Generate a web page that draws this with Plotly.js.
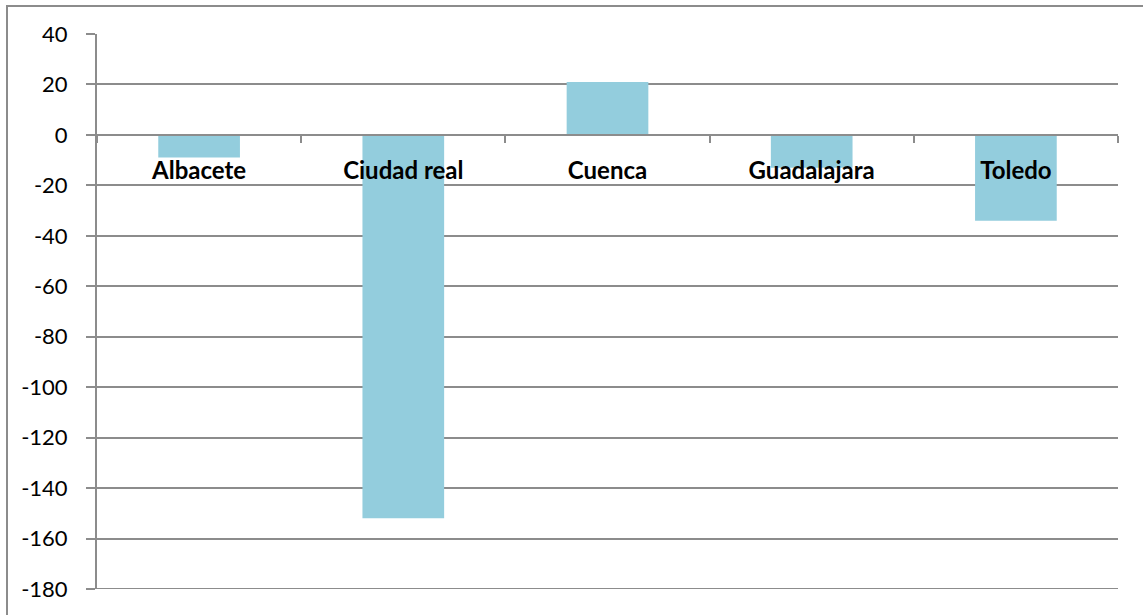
<!DOCTYPE html>
<html>
<head>
<meta charset="utf-8">
<script src="https://cdn.plot.ly/plotly-3.0.1.min.js"></script>
<style>
  html, body { margin: 0; padding: 0; background: #fff; }
  #wrap { position: relative; width: 1143px; height: 615px; overflow: hidden; }
  #chart { position: absolute; left: 0; top: 0; width: 1143px; height: 615px; }
  #frame { position: absolute; left: 6px; top: 5px; width: 1160px; height: 640px;
           border: 2px solid #8c8c8c; box-sizing: border-box; pointer-events: none; }
</style>
</head>
<body>
<div id="wrap"><div id="chart"></div><div id="frame"></div></div>
<script>
const categories = ["Albacete", "Ciudad real", "Cuenca", "Guadalajara", "Toledo"];
const values = [-9, -152, 21, -13, -34];
const yTicks = [40, 20, 0, -20, -40, -60, -80, -100, -120, -140, -160, -180];

const yMin = -180, yMax = 40;
const gridColor = "#8c8c8c";

const trace = {
  type: "bar",
  x: categories,
  y: values,
  width: 0.4,
  marker: { color: "#93cddd", line: { width: 0 } },
  hoverinfo: "x+y"
};

const layout = {
  width: 1143, height: 615,
  margin: { l: 97, r: 25, t: 34, b: 26 },
  paper_bgcolor: "rgba(0,0,0,0)",
  plot_bgcolor: "#ffffff",
  showlegend: false,
  font: { family: "Lato, 'Open Sans', sans-serif", color: "#000000" },
  xaxis: {
    type: "category",
    anchor: "free",
    position: (0 - yMin) / (yMax - yMin),
    showline: true, linecolor: gridColor, linewidth: 2,
    showgrid: false,
    ticks: "outside", tickson: "boundaries", ticklen: 7, tickcolor: gridColor, tickwidth: 2,
    ticklabelstandoff: 14,
    tickfont: { family: "Lato, 'Open Sans', sans-serif", size: 24, color: "#000000", weight: "bold" },
    range: [-0.5, 4.5],
    fixedrange: true
  },
  yaxis: {
    range: [yMin, yMax],
    tickmode: "array",
    tickvals: yTicks,
    ticktext: yTicks.map(String),
    showgrid: true, gridcolor: gridColor, gridwidth: 2,
    zeroline: false,
    showline: true, linecolor: gridColor, linewidth: 2,
    ticks: "outside", ticklen: 9, tickcolor: gridColor, tickwidth: 2,
    tickfont: { family: "Lato, 'Open Sans', sans-serif", size: 22, color: "#000000" },
    ticklabelstandoff: 14,
    fixedrange: true
  },
  shapes: [{
    type: "line", xref: "paper", yref: "y",
    x0: 0, x1: 1, y0: yMin, y1: yMin,
    line: { color: gridColor, width: 2 }, layer: "below"
  }]
};

Plotly.newPlot("chart", [trace], layout, { displayModeBar: false, staticPlot: true });
</script>
</body>
</html>
